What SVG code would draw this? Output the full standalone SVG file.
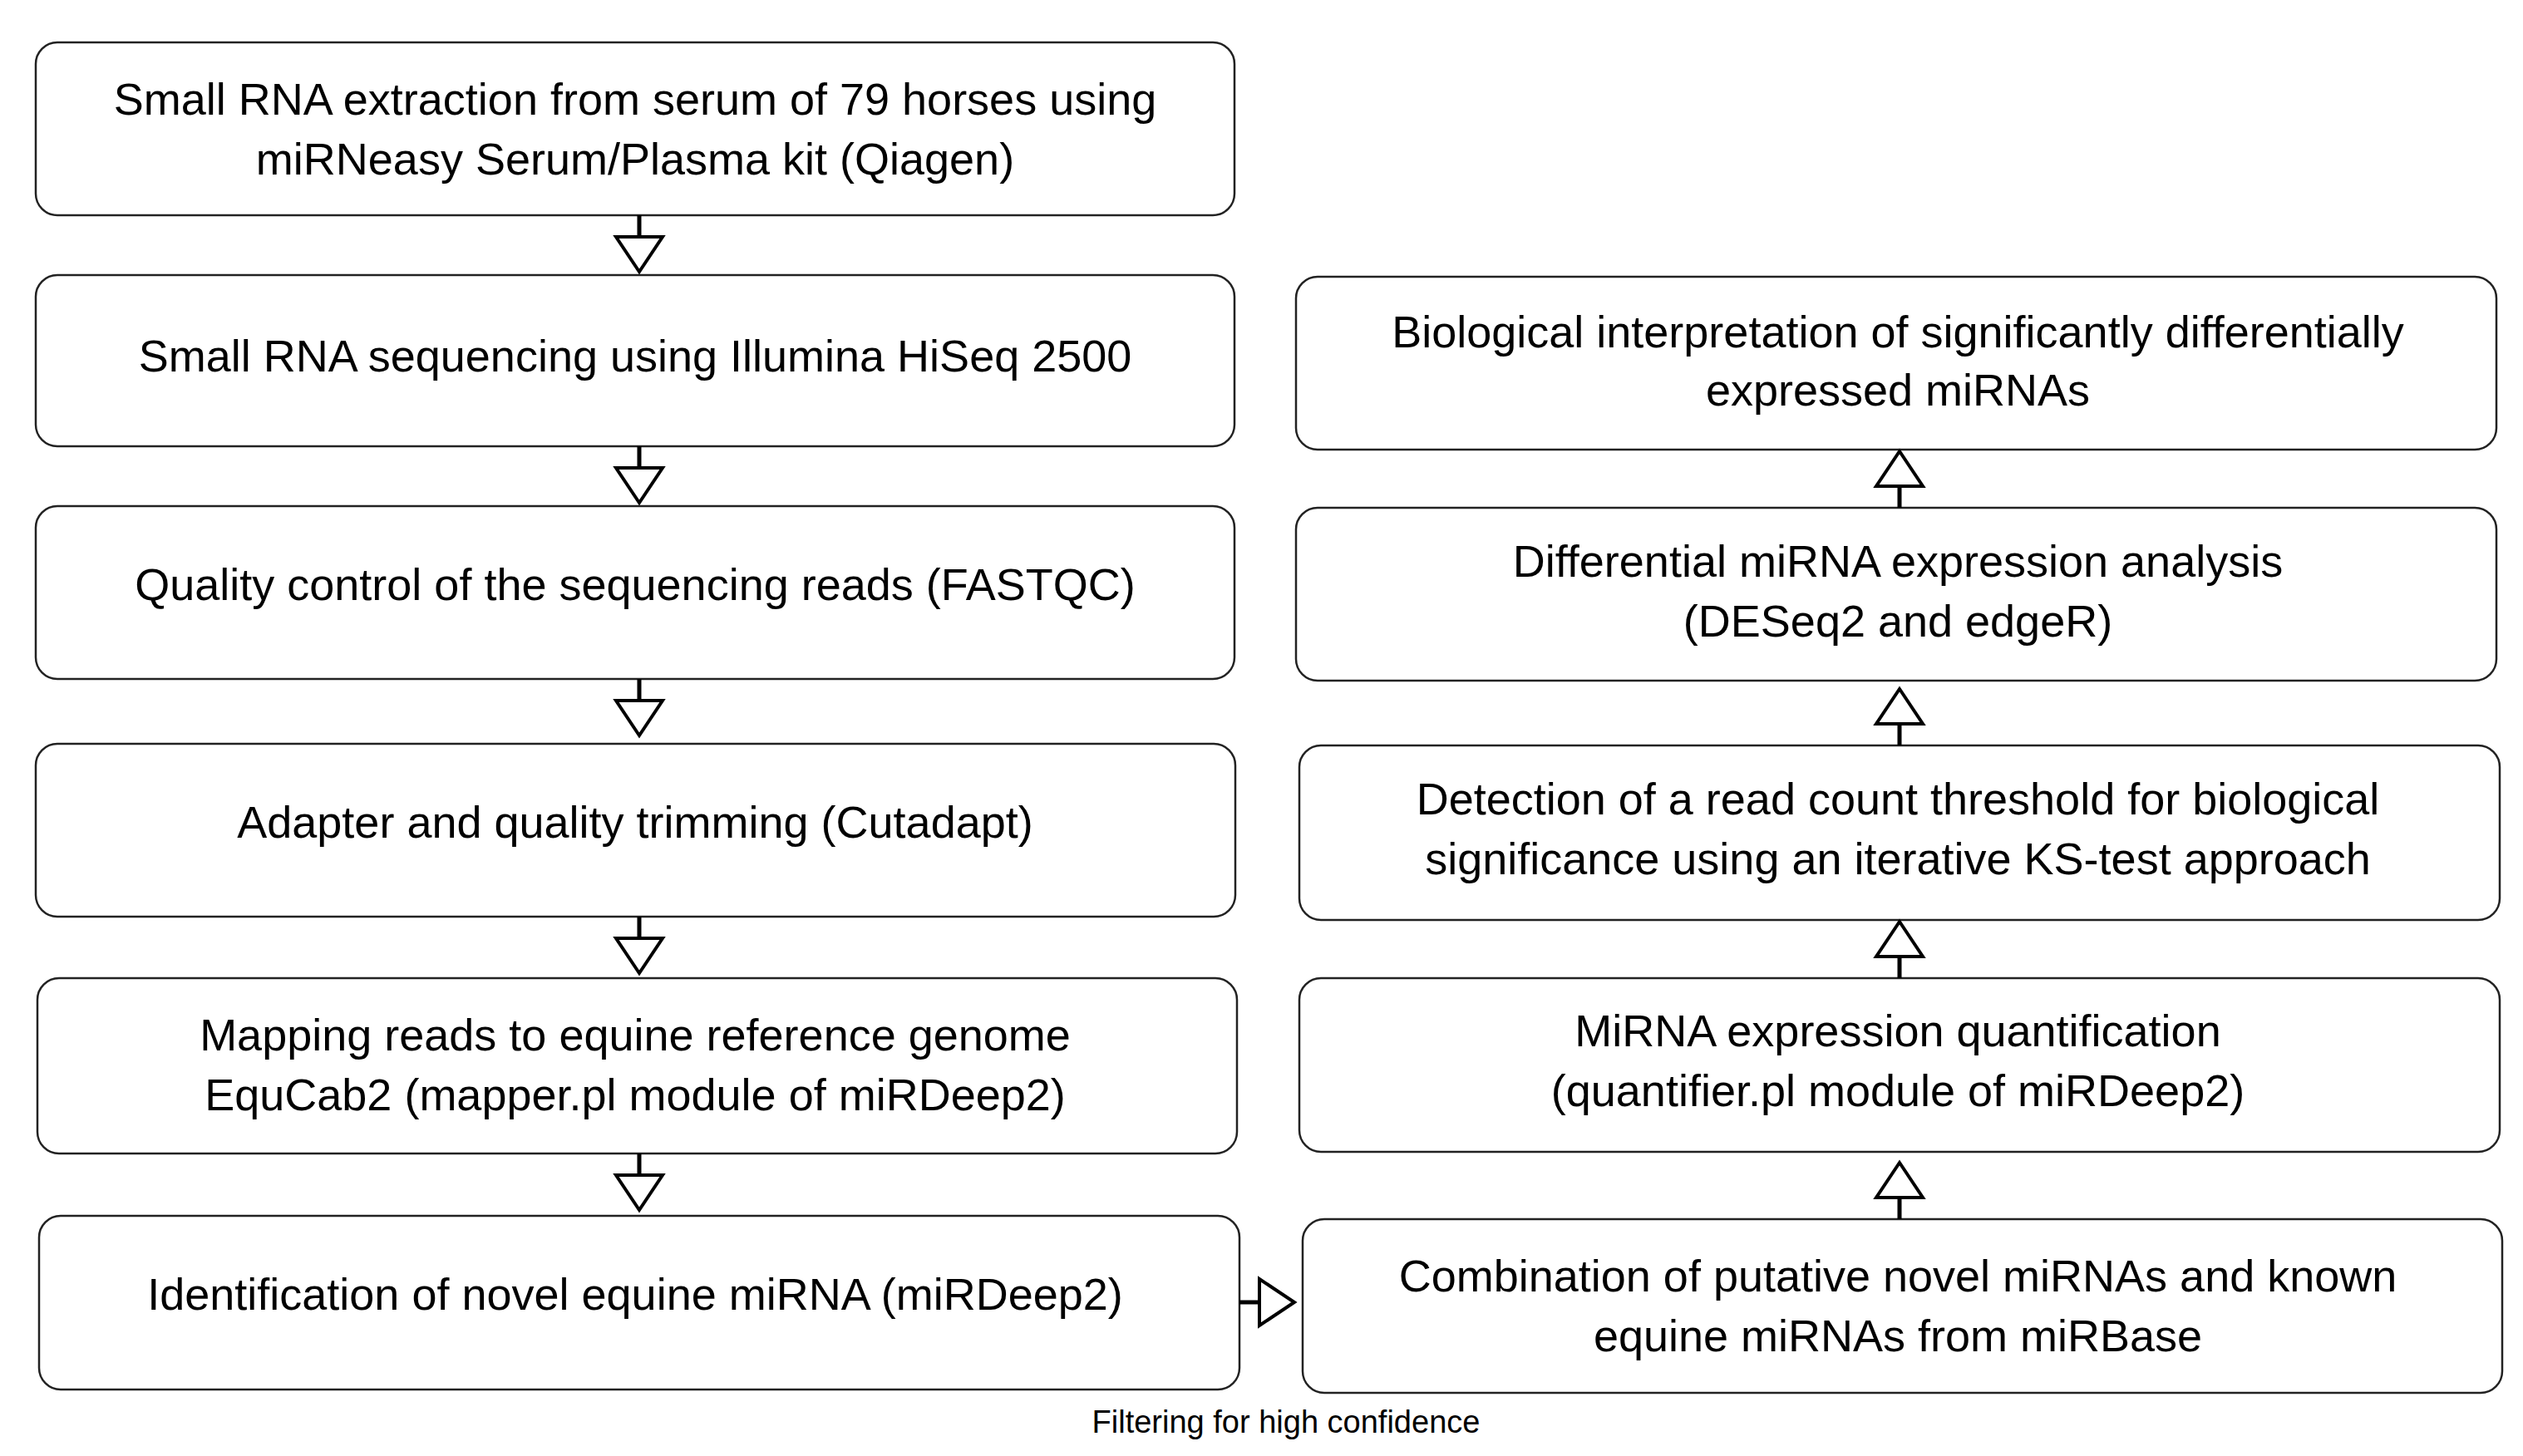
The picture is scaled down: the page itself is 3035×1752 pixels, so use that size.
<svg xmlns="http://www.w3.org/2000/svg" width="3035" height="1752" viewBox="0 0 3035 1752">
<style>
.b{fill:#fff;stroke:#222;stroke-width:2.5}
.t{font-family:"Liberation Sans",Arial,sans-serif;font-size:54px;fill:#000;text-anchor:middle}
.s{font-family:"Liberation Sans",Arial,sans-serif;font-size:38px;fill:#000;text-anchor:middle}
.l{stroke:#000;stroke-width:5;fill:none}
.h{fill:#fff;stroke:#000;stroke-width:4}
</style>
<rect width="3035" height="1752" fill="#fff"/>
<g id="n1"><rect class="b" x="43" y="51" width="1442" height="208" rx="26"/><text class="t" x="764" y="138">Small RNA extraction from serum of 79 horses using</text><text class="t" x="764" y="210">miRNeasy Serum/Plasma kit (Qiagen)</text></g>
<g id="n2"><rect class="b" x="43" y="331" width="1442" height="206" rx="26"/><text class="t" x="764" y="447">Small RNA sequencing using Illumina HiSeq 2500</text></g>
<g id="n3"><rect class="b" x="43" y="609" width="1442" height="208" rx="26"/><text class="t" x="764" y="722">Quality control of the sequencing reads (FASTQC)</text></g>
<g id="n4"><rect class="b" x="43" y="895" width="1443" height="208" rx="26"/><text class="t" x="764" y="1008">Adapter and quality trimming (Cutadapt)</text></g>
<g id="n5"><rect class="b" x="45" y="1177" width="1443" height="211" rx="26"/><text class="t" x="764" y="1264">Mapping reads to equine reference genome</text><text class="t" x="764" y="1336">EquCab2 (mapper.pl module of miRDeep2)</text></g>
<g id="n6"><rect class="b" x="47" y="1463" width="1444" height="209" rx="26"/><text class="t" x="764" y="1576">Identification of novel equine miRNA (miRDeep2)</text></g>
<g id="r1"><rect class="b" x="1559" y="333" width="1444" height="208" rx="26"/><text class="t" x="2283" y="418">Biological interpretation of significantly differentially</text><text class="t" x="2283" y="488">expressed miRNAs</text></g>
<g id="r2"><rect class="b" x="1559" y="611" width="1444" height="208" rx="26"/><text class="t" x="2283" y="694">Differential miRNA expression analysis</text><text class="t" x="2283" y="766">(DESeq2 and edgeR)</text></g>
<g id="r3"><rect class="b" x="1563" y="897" width="1444" height="210" rx="26"/><text class="t" x="2283" y="980">Detection of a read count threshold for biological</text><text class="t" x="2283" y="1052">significance using an iterative KS-test approach</text></g>
<g id="r4"><rect class="b" x="1563" y="1177" width="1444" height="209" rx="26"/><text class="t" x="2283" y="1259">MiRNA expression quantification</text><text class="t" x="2283" y="1331">(quantifier.pl module of miRDeep2)</text></g>
<g id="r5"><rect class="b" x="1567" y="1467" width="1443" height="209" rx="26"/><text class="t" x="2283" y="1554">Combination of putative novel miRNAs and known</text><text class="t" x="2283" y="1626">equine miRNAs from miRBase</text></g>
<text class="s" x="1547" y="1724">Filtering for high confidence</text>
<g id="connectors">
<path class="l" d="M769 259V285M769 537V563M769 817V843M769 1103V1129M769 1388V1414"/>
<path class="h" d="M741 285H797L769 327ZM741 563H797L769 605ZM741 843H797L769 885ZM741 1129H797L769 1171ZM741 1414H797L769 1456Z"/>
<path class="l" d="M2285 1467V1441M2285 1177V1151M2285 897V871M2285 611V585"/>
<path class="h" d="M2257 1441H2313L2285 1399ZM2257 1151H2313L2285 1109ZM2257 871H2313L2285 829ZM2257 585H2313L2285 543Z"/>
<path class="l" d="M1491 1567H1515"/>
<path class="h" d="M1515 1539V1595L1557 1567Z"/>
</g>
</svg>
